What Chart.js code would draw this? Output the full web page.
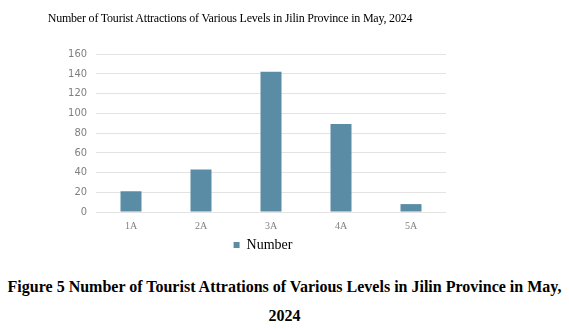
<!DOCTYPE html>
<html>
<head>
<meta charset="utf-8">
<script src="https://cdn.jsdelivr.net/npm/chart.js@4/dist/chart.umd.min.js"></script>
<style>
  html, body { margin: 0; padding: 0; background: #fff; }
  #wrap { position: relative; width: 569px; height: 330px; overflow: hidden; }
  #chartBox { position: absolute; left: 0; top: 0; width: 569px; height: 266px; }
  .t { position: absolute; font-family: "Liberation Serif", "Times New Roman", serif; color: #000; white-space: nowrap; }
  #title { left: 0; width: 460px; text-align: center; top: 11px; font-size: 12px; letter-spacing: -0.2px; }
  .cap { left: 0; width: 569px; text-align: center; font-weight: bold; font-size: 16px; }
  #cap1 { top: 278px; }
  #cap2 { top: 307px; }
</style>
</head>
<body>
<div id="wrap">
  <div id="chartBox"><canvas id="c"></canvas></div>
  <div class="t" id="title">Number of Tourist Attractions of Various Levels in Jilin Province in May, 2024</div>
  <div class="t cap" id="cap1">Figure 5 Number of Tourist Attrations of Various Levels in Jilin Province in May,</div>
  <div class="t cap" id="cap2">2024</div>
</div>
<script>
const categories = ["1A", "2A", "3A", "4A", "5A"];
const seriesName = "Number";
const values = [21, 43, 142, 89, 8];
const yTicks = [0, 20, 40, 60, 80, 100, 120, 140, 160];

// shift the legend box horizontally so it is centred like the reference
const legendShift = {
  id: 'legendShift',
  afterLayout(chart) {
    const lg = chart.legend;
    if (lg) { lg.left += 40; lg.right += 40; }
  }
};

new Chart(document.getElementById('c'), {
  type: 'bar',
  data: {
    labels: categories,
    datasets: [{
      label: seriesName,
      data: values,
      backgroundColor: '#5a8ca6',
      borderWidth: 0,
      categoryPercentage: 1.0,
      barPercentage: 0.3
    }]
  },
  plugins: [legendShift],
  options: {
    responsive: true,
    maintainAspectRatio: false,
    animation: false,
    layout: { padding: { top: 54, right: 123, left: 0, bottom: 4 } },
    plugins: {
      title: { display: false },
      tooltip: { enabled: false },
      legend: {
        position: 'bottom',
        labels: {
          usePointStyle: false,
          boxWidth: 6,
          boxHeight: 6,
          padding: 6,
          color: '#000',
          font: { family: '"Liberation Serif", serif', size: 14 }
        }
      }
    },
    scales: {
      x: {
        afterFit: (s) => { s.height = s.height - 8; },
        grid: { display: false, drawTicks: false },
        border: { display: false },
        ticks: {
          color: '#7f7f7f',
          padding: 8,
          font: { family: '"Liberation Serif", serif', size: 10 }
        }
      },
      y: {
        min: 0,
        max: 160,
        afterFit: (s) => { s.width = 96; },
        afterBuildTicks: (s) => { s.ticks = yTicks.map(v => ({ value: v })); },
        grid: { color: '#e3e3e3', lineWidth: 1, drawTicks: false },
        border: { display: false },
        ticks: {
          color: '#7f7f7f',
          padding: 9,
          font: { family: '"DejaVu Sans Condensed", "Liberation Sans Narrow", sans-serif', size: 11 }
        }
      }
    }
  }
});
</script>
</body>
</html>
